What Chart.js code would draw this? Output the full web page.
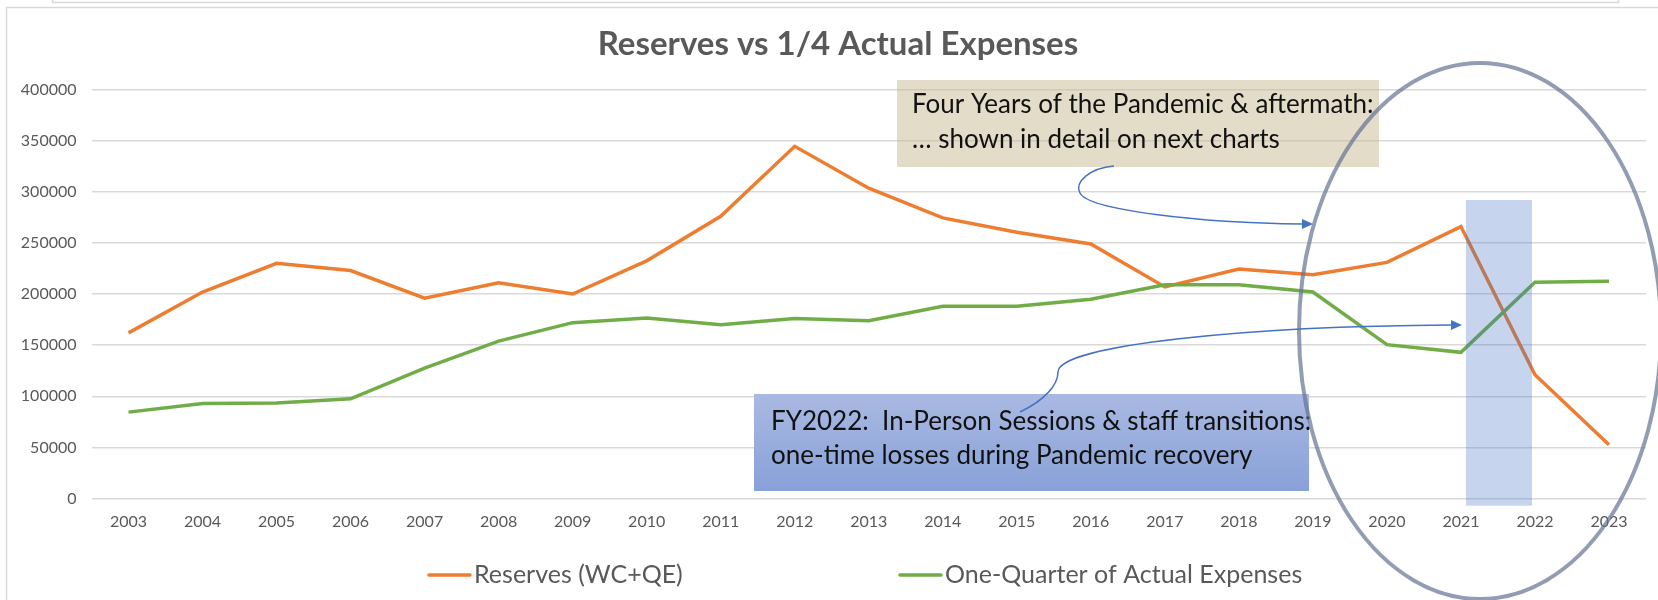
<!DOCTYPE html>
<html>
<head>
<meta charset="utf-8">
<script src="https://cdn.jsdelivr.net/npm/chart.js@4.4.1/dist/chart.umd.min.js"></script>
<style>
  html, body { margin: 0; padding: 0; background: #fff; }
  canvas { display: block; }
</style>
</head>
<body>
<canvas id="myChart" width="1658" height="600"></canvas>
<script>
// Fiscal years along the x-axis
var years = ['2003', '2004', '2005', '2006', '2007', '2008', '2009', '2010', '2011', '2012',
  '2013', '2014', '2015', '2016', '2017', '2018', '2019', '2020', '2021', '2022', '2023'];
// Reserves (working capital + quasi-endowment)
var reserves = [162000, 202000, 230000, 223000, 196000, 211000, 200000, 232500, 276000, 344500,
  303500, 274500, 260500, 249000, 207000, 224500, 219000, 231000, 266000, 121000, 52500];
// One quarter of the actual yearly expenses
var quarterExpenses = [84500, 93000, 93500, 97500, 127500, 154000, 172000, 176500, 170000, 176000,
  174000, 188000, 188000, 195000, 209000, 209000, 202000, 150500, 143000, 211500, 212500];
// y-axis ticks
var yMax = 400000;
var yStep = 50000;

var seriesNames = ['Reserves (WC+QE)', 'One-Quarter of Actual Expenses'];
var seriesColors = ['#ED7D31', '#70AD47'];

Chart.defaults.font.family = 'Lato';

// arrow with a filled head at the end of a cubic path
function drawArrow(ctx, pts) {
  ctx.beginPath();
  ctx.moveTo(pts[0][0], pts[0][1]);
  for (var i = 1; i < pts.length; i += 3) {
    ctx.bezierCurveTo(pts[i][0], pts[i][1], pts[i + 1][0], pts[i + 1][1], pts[i + 2][0], pts[i + 2][1]);
  }
  ctx.stroke();
  var end = pts[pts.length - 1], prev = pts[pts.length - 2];
  var a = Math.atan2(end[1] - prev[1], end[0] - prev[0]);
  var len = 11, half = 5;
  var tx = end[0] + Math.cos(a) * len, ty = end[1] + Math.sin(a) * len;
  ctx.beginPath();
  ctx.moveTo(tx, ty);
  ctx.lineTo(end[0] - Math.sin(a) * half, end[1] + Math.cos(a) * half);
  ctx.lineTo(end[0] + Math.sin(a) * half, end[1] - Math.cos(a) * half);
  ctx.closePath();
  ctx.fill();
}

var callouts = {
  id: 'callouts',
  beforeDraw: function(chart) {
    var ctx = chart.ctx;
    ctx.save();
    ctx.strokeStyle = '#D9D9D9';
    ctx.lineWidth = 1.5;
    ctx.strokeRect(6.5, 7.5, 1700, 700);
    ctx.beginPath();
    ctx.moveTo(52.5, 0); ctx.lineTo(52.5, 2.5); ctx.lineTo(1618.5, 2.5); ctx.lineTo(1618.5, 0);
    ctx.stroke();
    ctx.restore();
  },
  afterDatasetsDraw: function(chart) {
    var ctx = chart.ctx, xs = chart.scales.x, ys = chart.scales.y;
    ctx.save();
    // highlight of the 2021 -> 2022 drop
    var bx0 = xs.getPixelForValue(18) + 5, bx1 = xs.getPixelForValue(19) - 3;
    var by0 = ys.getPixelForValue(292000), by1 = ys.getPixelForValue(-7000);
    ctx.fillStyle = 'rgba(68,114,196,0.3)';
    ctx.fillRect(bx0, by0, bx1 - bx0, by1 - by0);

    // beige note
    ctx.fillStyle = 'rgba(200,185,145,0.5)';
    ctx.fillRect(897, 80, 482, 87);
    ctx.fillStyle = '#111';
    ctx.font = '26px Lato';
    ctx.textBaseline = 'middle';
    ctx.fillText('Four Years of the Pandemic & aftermath:', 912, 105);
    ctx.fillText('\u2026 shown in detail on next charts', 912, 140);

    // blue note
    var g = ctx.createLinearGradient(0, 394, 0, 491);
    g.addColorStop(0, '#AAB9E2');
    g.addColorStop(1, '#88A1D8');
    ctx.fillStyle = g;
    ctx.fillRect(754, 394, 555, 97);
    ctx.fillStyle = '#111';
    ctx.fillText('FY2022:  In-Person Sessions & staff transitions:', 771, 422);
    ctx.fillText('one-time losses during Pandemic recovery', 771, 456);

    // connectors
    ctx.strokeStyle = '#4472C4';
    ctx.fillStyle = '#4472C4';
    ctx.lineWidth = 1.5;
    drawArrow(ctx, [[1114, 166], [1090, 168], [1074, 182], [1080, 193],
      [1088, 210], [1200, 223], [1302, 224]]);
    drawArrow(ctx, [[1020, 412], [1045, 400], [1058, 385], [1058, 372],
      [1058, 345], [1250, 326], [1451, 325]]);
    ctx.restore();
  },
  afterDraw: function(chart) {
    var ctx = chart.ctx;
    ctx.save();
    // ring around the pandemic years
    ctx.strokeStyle = 'rgba(100,114,145,0.7)';
    ctx.lineWidth = 4;
    ctx.beginPath();
    ctx.ellipse(1480, 331, 181, 268, 0, 0, Math.PI * 2);
    ctx.stroke();

    // legend
    var lx = [429, 900];
    ctx.font = '25px Lato';
    ctx.textBaseline = 'middle';
    ctx.lineCap = 'round';
    chart.data.datasets.forEach(function(ds, i) {
      ctx.strokeStyle = ds.borderColor;
      ctx.lineWidth = 3.5;
      ctx.beginPath();
      ctx.moveTo(lx[i], 575);
      ctx.lineTo(lx[i] + 41, 575);
      ctx.stroke();
      ctx.fillStyle = '#595959';
      ctx.fillText(ds.label, lx[i] + 45, 575);
    });
    ctx.restore();
  }
};

var ctx = document.getElementById('myChart');
var myChart = new Chart(ctx, {
  type: 'line',
  data: {
    labels: years,
    datasets: [
      {
        label: seriesNames[0],
        data: reserves,
        borderColor: seriesColors[0],
        backgroundColor: seriesColors[0],
        borderWidth: 3.5,
        pointRadius: 0,
        fill: false,
        order: 1
      },
      {
        label: seriesNames[1],
        data: quarterExpenses,
        borderColor: seriesColors[1],
        backgroundColor: seriesColors[1],
        borderWidth: 3.5,
        pointRadius: 0,
        fill: false,
        order: 0
      }
    ]
  },
  options: {
    responsive: false,
    animation: false,
    layout: { padding: { left: 18, right: 0, top: 0, bottom: 0 } },
    plugins: {
      legend: { display: false },
      tooltip: { enabled: false },
      title: {
        display: true,
        text: 'Reserves vs 1/4 Actual Expenses',
        color: '#595959',
        font: { size: 33, weight: 'bold' },
        padding: { top: 25, bottom: 25 }
      }
    },
    scales: {
      x: {
        offset: true,
        grid: { display: false, drawTicks: false },
        border: { display: false },
        ticks: { color: '#595959', font: { size: 16 }, padding: 14, maxRotation: 0 },
        afterFit: function(s) { s.height = 101.5; }
      },
      y: {
        min: 0,
        max: yMax,
        grid: { color: '#D9D9D9', lineWidth: 1.5, drawTicks: false },
        border: { display: false },
        ticks: {
          stepSize: yStep,
          color: '#595959',
          font: { size: 16 },
          padding: 15,
          callback: function(v) { return String(v); }
        },
        afterFit: function(s) { s.width = 73.5; }
      },
      // empty strip on the right so the plot ends where the original does
      edge: {
        position: 'right',
        type: 'linear',
        grid: { drawOnChartArea: false, drawTicks: false },
        border: { display: false },
        ticks: { display: false },
        afterFit: function(s) { s.width = 12; }
      }
    }
  },
  plugins: [callouts]
});
</script>
</body>
</html>
